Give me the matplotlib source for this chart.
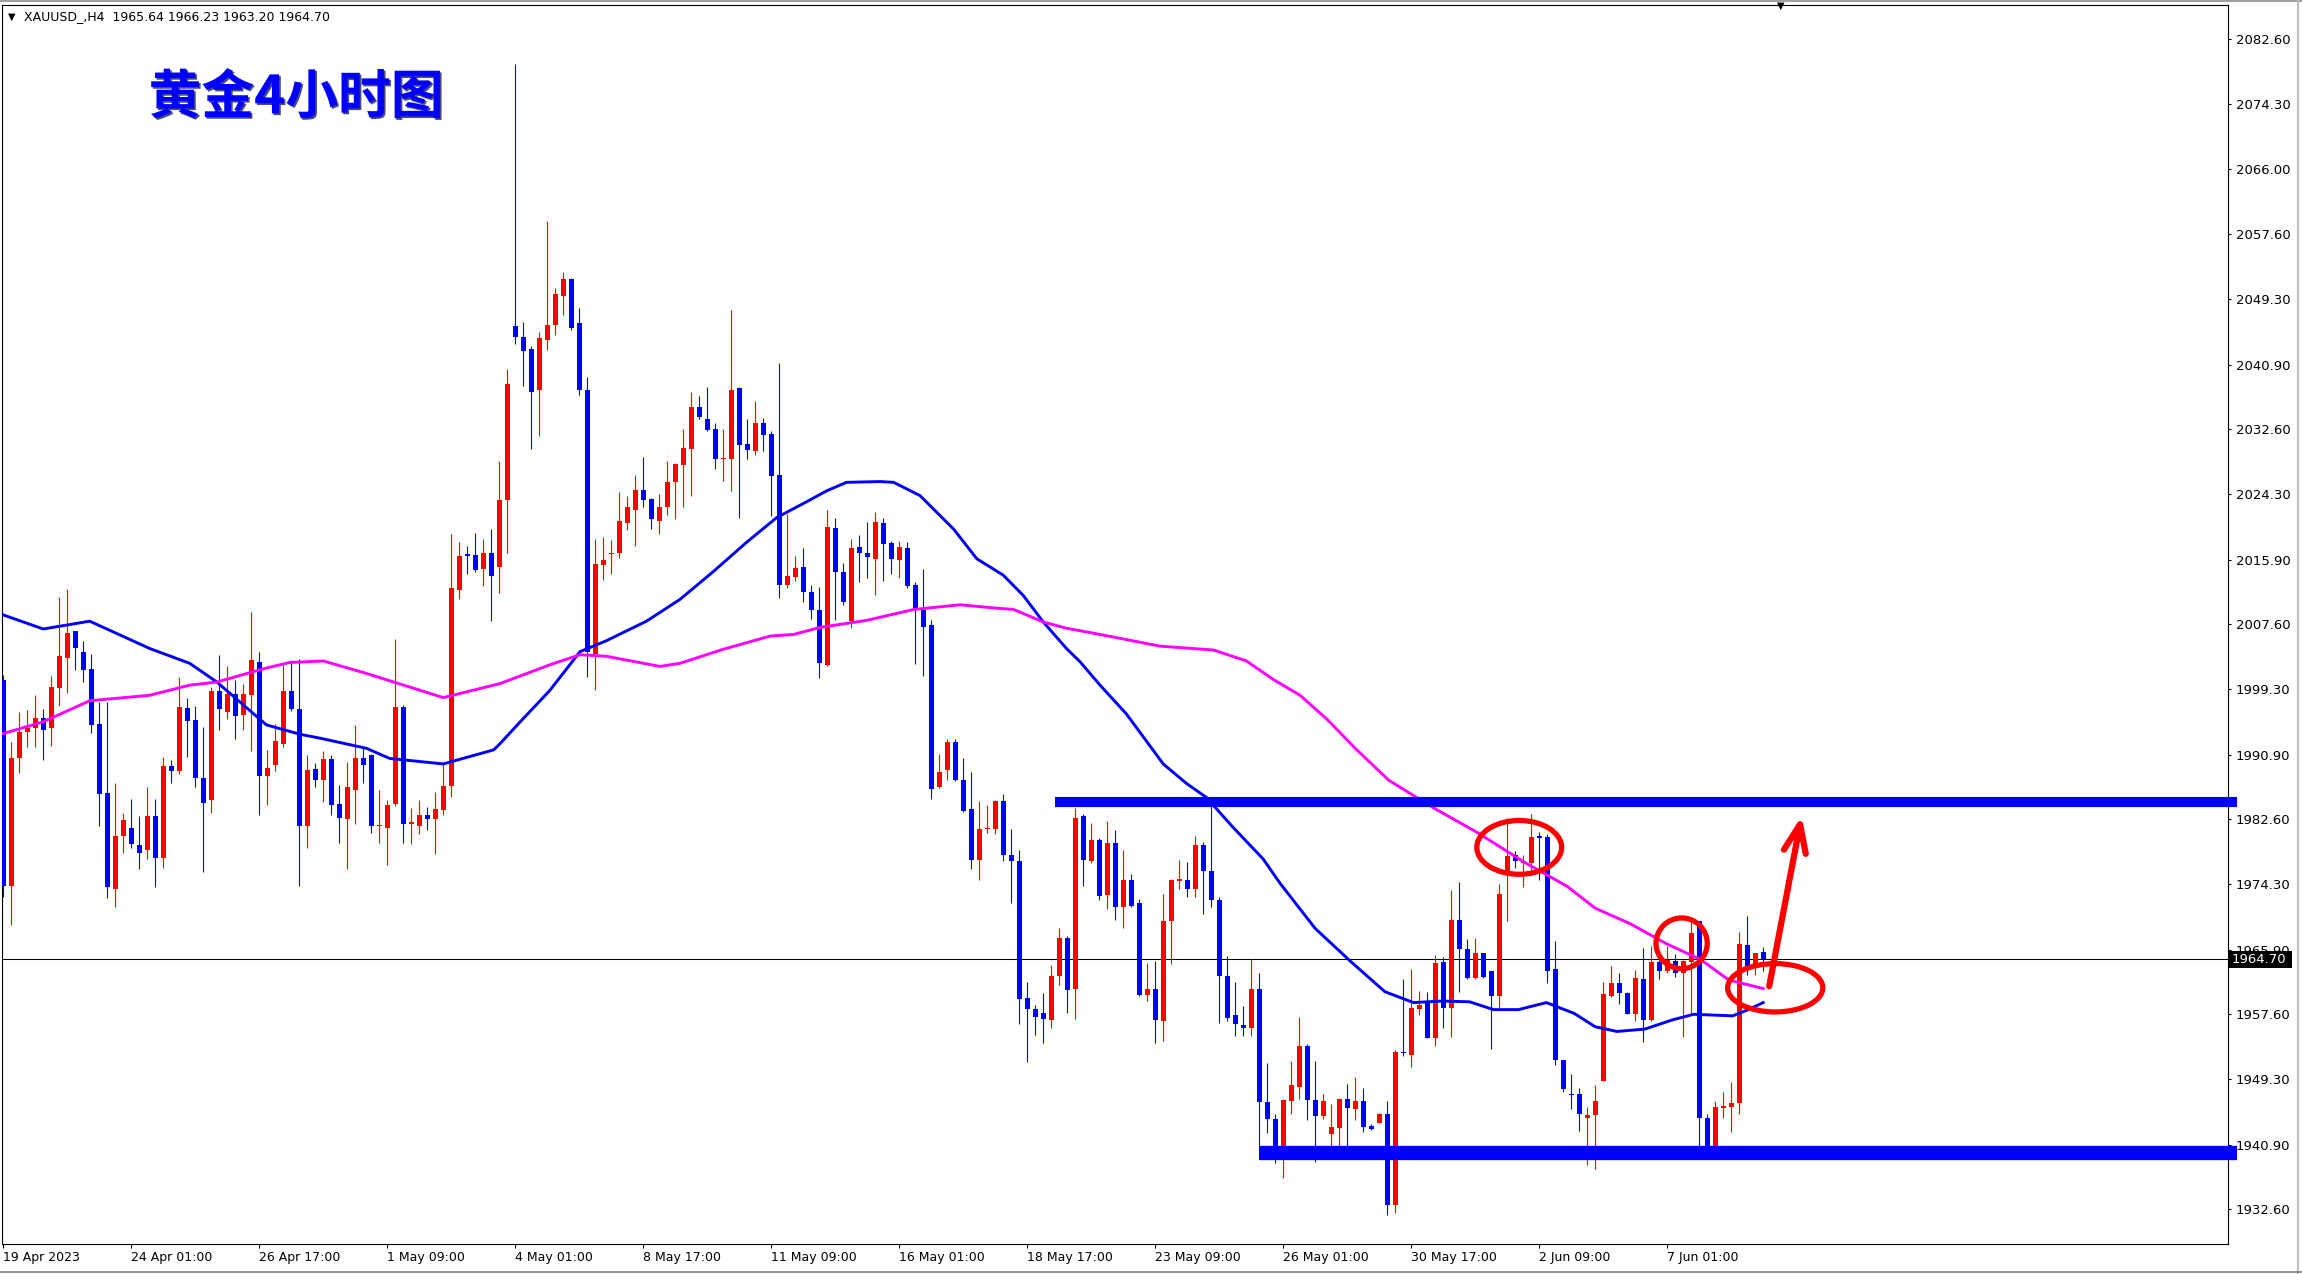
import matplotlib
matplotlib.use("Agg")
import matplotlib.pyplot as plt
import matplotlib.patheffects as pe
from matplotlib.patches import Ellipse, Rectangle
from matplotlib.lines import Line2D
import numpy as np

W, H = 2302, 1274

# XAUUSD H4 candles (bar 0 = 19 Apr 2023)
opens = [
    2000.5, 1974.0, 1990.4, 1993.8, 1994.3, 1995.6, 1994.3, 1999.4, 2003.3, 2006.7,
    2004.1, 2001.9, 1994.8, 1986.0, 1973.6, 1980.4, 1981.5, 1979.3, 1978.7, 1983.0,
    1977.7, 1989.4, 1988.8, 1996.9, 1995.3, 1987.9, 1985.1, 1999.0, 1996.3, 1998.7,
    1996.0, 1998.6, 2002.8, 1988.1, 1989.6, 1992.3, 1999.0, 1996.8, 1981.8, 1989.1,
    1987.6, 1990.3, 1984.6, 1982.6, 1986.3, 1990.5, 1990.8, 1981.7, 1981.5, 1984.5,
    1997.0, 1982.0, 1981.7, 1983.1, 1982.6, 1983.8, 1986.9, 2012.0, 2016.6, 2016.5,
    2014.7, 2016.8, 2015.0, 2023.5, 2045.8, 2044.4, 2042.9, 2037.6, 2044.0, 2046.0,
    2049.7, 2051.9, 2046.2, 2037.6, 2003.8, 2015.2, 2016.6, 2016.8, 2020.6, 2022.3,
    2024.8, 2023.7, 2020.8, 2022.6, 2025.9, 2028.0, 2030.1, 2035.5, 2033.9, 2032.6,
    2028.8, 2028.8, 2037.9, 2030.7, 2029.8, 2033.4, 2032.0, 2026.8, 2012.6, 2013.7,
    2014.9, 2011.7, 2009.4, 2002.4, 2019.9, 2014.3, 2008.0, 2017.5, 2016.8, 2016.0,
    2020.6, 2018.0, 2015.8, 2017.4, 2012.7, 2009.4, 2007.5, 1986.8, 1988.9, 1992.5,
    1987.7, 1983.9, 1977.4, 1981.3, 1981.3, 1985.0, 1978.0, 1977.3, 1959.7, 1958.3,
    1957.8, 1956.9, 1962.5, 1967.4, 1960.8, 1983.0, 1977.2, 1980.0, 1972.9, 1979.5,
    1971.3, 1974.8, 1971.9, 1960.1, 1960.9, 1956.8, 1969.6, 1974.7, 1974.8, 1973.6,
    1979.3, 1976.0, 1972.3, 1962.5, 1957.5, 1956.2, 1955.8, 1960.8, 1946.4, 1944.2,
    1940.2, 1946.5, 1948.3, 1953.5, 1946.6, 1944.6, 1942.2, 1943.0, 1946.7, 1945.5,
    1946.5, 1943.3, 1943.7, 1944.8, 1933.1, 1952.8, 1952.4, 1958.3, 1959.1, 1954.6,
    1964.3, 1958.4, 1969.7, 1966.0, 1962.3, 1965.4, 1963.1, 1960.0, 1975.5, 1978.0,
    1977.0, 1977.0, 1980.4, 1980.3, 1963.4, 1951.7, 1947.4, 1947.4, 1944.3, 1944.7,
    1949.1, 1959.9, 1961.6, 1960.3, 1957.7, 1962.1, 1956.9, 1964.3, 1963.1, 1964.4,
    1962.9, 1964.3, 1969.5, 1944.3, 1940.5, 1945.6, 1945.7, 1946.2, 1966.5, 1963.5,
    1965.64,
]
highs = [
    2001.1, 1992.5, 1996.4, 1996.6, 1998.5, 1996.7, 2001.0, 2011.1, 2012.1, 2006.8,
    2005.4, 2003.8, 1997.7, 1997.7, 1987.3, 1983.4, 1985.2, 1983.0, 1986.8, 1985.2,
    1990.6, 1990.2, 2000.8, 1998.2, 1997.1, 1994.4, 1999.5, 2003.7, 2002.3, 2000.5,
    2000.0, 2009.2, 2004.0, 1991.5, 1994.8, 2002.4, 2003.0, 2003.1, 1990.8, 1989.8,
    1991.4, 1990.8, 1987.0, 1989.9, 1994.7, 1991.8, 1991.0, 1986.3, 1985.1, 2005.7,
    1997.2, 1984.0, 1985.1, 1984.2, 1986.1, 1989.8, 2019.2, 2018.1, 2017.6, 2019.3,
    2018.6, 2019.8, 2028.5, 2040.3, 2079.4, 2046.3, 2043.3, 2045.1, 2059.3, 2050.7,
    2052.8, 2052.0, 2048.1, 2039.3, 2018.6, 2018.8, 2018.4, 2024.6, 2024.1, 2026.8,
    2029.1, 2023.8, 2024.3, 2028.6, 2028.3, 2032.6, 2037.4, 2036.9, 2038.0, 2033.4,
    2032.6, 2047.9, 2038.0, 2033.9, 2036.2, 2034.1, 2032.4, 2041.1, 2021.8, 2016.4,
    2017.4, 2012.6, 2012.4, 2022.3, 2021.2, 2015.5, 2018.6, 2019.1, 2020.7, 2022.0,
    2021.2, 2018.3, 2018.3, 2018.1, 2013.0, 2014.7, 2008.2, 1991.0, 1992.9, 1992.9,
    1990.5, 1988.7, 1985.0, 1984.4, 1985.1, 1985.9, 1981.4, 1978.7, 1961.8, 1958.8,
    1960.3, 1963.9, 1968.6, 1967.7, 1984.0, 1983.3, 1982.1, 1980.2, 1982.4, 1981.2,
    1978.7, 1975.6, 1972.4, 1964.2, 1964.4, 1973.0, 1974.9, 1977.4, 1977.1, 1980.4,
    1979.7, 1984.4, 1972.6, 1965.1, 1961.7, 1958.7, 1964.7, 1962.9, 1951.4, 1944.8,
    1946.7, 1951.6, 1957.2, 1953.8, 1951.6, 1947.4, 1946.1, 1946.9, 1948.7, 1949.6,
    1948.1, 1943.5, 1945.0, 1946.5, 1953.0, 1962.1, 1963.4, 1960.6, 1960.4, 1965.2,
    1964.9, 1973.5, 1974.6, 1967.3, 1967.4, 1965.5, 1963.2, 1974.3, 1982.8, 1978.5,
    1978.0, 1983.3, 1981.0, 1980.7, 1967.0, 1951.8, 1949.9, 1948.1, 1945.7, 1948.5,
    1961.8, 1963.8, 1962.9, 1960.4, 1963.3, 1966.1, 1966.3, 1965.4, 1966.4, 1965.3,
    1964.6, 1969.7, 1969.6, 1944.8, 1946.5, 1947.6, 1948.9, 1968.2, 1970.2, 1965.5,
    1966.23,
]
lows = [
    1972.7, 1969.0, 1988.6, 1991.9, 1991.9, 1990.2, 1992.0, 1997.1, 1998.8, 2001.8,
    2000.2, 1993.7, 1981.7, 1972.5, 1971.4, 1978.3, 1978.9, 1976.2, 1977.5, 1973.9,
    1976.3, 1987.3, 1988.4, 1990.6, 1986.8, 1975.9, 1983.4, 1994.1, 1995.5, 1992.9,
    1994.1, 1991.4, 1983.2, 1984.4, 1988.8, 1991.9, 1996.5, 1974.0, 1978.9, 1986.7,
    1984.8, 1983.2, 1979.6, 1976.2, 1982.0, 1987.2, 1980.8, 1979.6, 1976.8, 1984.3,
    1979.6, 1979.4, 1980.7, 1981.2, 1978.2, 1983.2, 1985.5, 2010.9, 2014.0, 2014.3,
    2012.5, 2008.0, 2011.6, 2016.8, 2043.5, 2038.2, 2030.1, 2031.8, 2042.8, 2044.7,
    2047.3, 2045.3, 2037.0, 2000.9, 1999.2, 2013.3, 2014.0, 2016.1, 2019.7, 2017.6,
    2022.6, 2019.8, 2019.2, 2021.6, 2021.1, 2022.6, 2024.1, 2033.9, 2032.4, 2027.5,
    2026.0, 2024.7, 2021.2, 2028.8, 2029.3, 2029.8, 2021.5, 2011.0, 2012.2, 2013.2,
    2010.5, 2008.3, 2000.7, 2002.2, 2008.1, 2010.1, 2007.1, 2013.0, 2013.6, 2011.3,
    2013.1, 2014.1, 2013.5, 2012.2, 2002.5, 2001.0, 1985.2, 1986.6, 1987.7, 1987.5,
    1983.6, 1976.2, 1974.8, 1980.9, 1980.7, 1977.3, 1971.9, 1956.4, 1951.5, 1955.0,
    1953.9, 1955.8, 1961.4, 1957.8, 1957.0, 1974.1, 1977.0, 1972.2, 1971.1, 1969.7,
    1968.7, 1971.4, 1960.0, 1959.3, 1953.9, 1954.2, 1964.0, 1973.7, 1972.7, 1972.6,
    1970.5, 1971.3, 1956.5, 1956.8, 1954.8, 1954.8, 1954.8, 1940.2, 1942.4, 1938.5,
    1936.6, 1944.8, 1946.7, 1944.0, 1938.6, 1944.2, 1940.7, 1940.7, 1940.7, 1944.0,
    1942.5, 1942.8, 1943.6, 1931.9, 1932.1, 1952.2, 1950.8, 1957.5, 1954.5, 1953.5,
    1955.8, 1954.7, 1960.5, 1962.1, 1962.1, 1962.3, 1953.1, 1958.4, 1969.6, 1976.3,
    1973.9, 1975.5, 1974.8, 1961.6, 1951.1, 1947.7, 1945.5, 1942.7, 1938.3, 1937.8,
    1949.0, 1959.8, 1958.9, 1957.6, 1956.7, 1954.1, 1956.8, 1962.1, 1962.9, 1962.4,
    1954.7, 1957.5, 1940.6, 1939.0, 1939.5, 1944.3, 1942.5, 1944.8, 1962.7, 1962.6,
    1963.20,
]
closes = [
    1974.0, 1990.4, 1993.8, 1994.3, 1995.6, 1994.0, 1999.5, 2003.5, 2006.5, 2004.5,
    2001.7, 1994.7, 1985.9, 1973.9, 1980.5, 1982.5, 1979.4, 1978.3, 1983.0, 1977.7,
    1989.4, 1988.8, 1997.0, 1995.2, 1987.9, 1984.7, 1999.0, 1996.8, 1998.7, 1995.9,
    1998.7, 2003.0, 1988.1, 1989.2, 1992.6, 1999.0, 1996.7, 1981.7, 1988.9, 1987.6,
    1990.3, 1984.4, 1982.8, 1986.7, 1990.5, 1989.5, 1981.7, 1981.9, 1984.4, 1997.0,
    1982.0, 1982.3, 1983.1, 1982.6, 1983.9, 1986.9, 2012.2, 2016.3, 2016.4, 2014.6,
    2016.8, 2013.8, 2023.5, 2038.4, 2044.4, 2042.7, 2037.4, 2044.3, 2046.0, 2050.0,
    2051.9, 2045.6, 2037.6, 2004.1, 2015.3, 2015.9, 2016.8, 2020.9, 2022.6, 2024.8,
    2023.6, 2021.1, 2022.6, 2025.8, 2028.1, 2030.2, 2035.5, 2034.2, 2032.5, 2028.8,
    2028.9, 2037.7, 2030.6, 2030.0, 2033.4, 2031.9, 2026.6, 2012.6, 2013.8, 2014.8,
    2011.8, 2009.4, 2002.6, 2020.1, 2014.3, 2010.5, 2017.4, 2016.7, 2016.2, 2020.7,
    2017.9, 2016.0, 2017.5, 2012.5, 2009.6, 2007.3, 1986.5, 1988.7, 1992.5, 1987.6,
    1983.7, 1977.4, 1981.4, 1981.5, 1985.0, 1978.0, 1977.2, 1959.6, 1958.3, 1957.3,
    1957.0, 1962.5, 1967.4, 1960.7, 1982.8, 1977.4, 1980.0, 1972.8, 1979.5, 1971.4,
    1974.8, 1971.5, 1960.1, 1960.9, 1956.9, 1969.6, 1974.8, 1974.9, 1973.6, 1979.3,
    1976.0, 1972.3, 1962.5, 1957.1, 1956.4, 1955.8, 1960.9, 1946.4, 1944.2, 1940.2,
    1946.6, 1948.5, 1953.5, 1946.6, 1944.6, 1946.5, 1943.1, 1946.8, 1945.6, 1946.5,
    1943.2, 1942.9, 1944.8, 1933.1, 1952.8, 1952.6, 1958.4, 1958.8, 1954.6, 1964.2,
    1958.4, 1969.7, 1966.0, 1962.3, 1965.4, 1962.4, 1960.0, 1973.0, 1977.9, 1977.2,
    1977.2, 1980.3, 1980.2, 1963.1, 1951.7, 1948.0, 1947.2, 1944.8, 1944.7, 1946.5,
    1960.2, 1961.6, 1960.3, 1957.7, 1962.2, 1956.9, 1964.3, 1963.1, 1964.6, 1962.9,
    1964.4, 1968.0, 1944.3, 1940.0, 1945.7, 1945.8, 1946.2, 1966.6, 1963.5, 1965.4,
    1964.70,
]

# moving averages, sampled along the lines (bar position, price)
ma_fast_x = [0, 5, 10.8, 18.3, 23.3, 26.7, 32.9, 37.1, 39.6, 45.4, 48.3, 55.0, 61.3,
             62.1, 64.8, 68.3, 72.1, 75.4, 80.4, 84.6, 88.8, 92.9, 96.7, 100.4, 102.9,
             105.4, 109.6, 111.3, 114.6, 118.8, 121.7, 125.0, 127.5, 130.0, 132.9,
             134.6, 137.1, 140.4, 145.0, 147.9, 150.4, 153.7, 157.5, 159.6, 162.1,
             164.0, 168.4, 172.7, 176.3, 179.8, 183.3, 186.3, 189.4, 192.9, 196.4,
             199.0, 201.7, 205.2, 208.7, 211.3, 216.2, 217.9, 220.0]
ma_fast_y = [2008.8, 2007.0, 2008.0, 2004.5, 2002.6, 2000.2, 1994.7, 1993.5, 1993.0,
             1991.7, 1990.4, 1989.7, 1991.5, 1992.3, 1995.3, 1999.1, 2004.1, 2005.5,
             2008.0, 2010.8, 2014.4, 2018.1, 2021.3, 2023.3, 2024.7, 2025.8, 2025.9,
             2025.8, 2024.1, 2019.8, 2016.0, 2013.9, 2011.3, 2007.9, 2004.5, 2002.8,
             1999.8, 1996.1, 1989.7, 1987.2, 1985.4, 1981.6, 1977.5, 1974.4, 1971.1,
             1968.6, 1964.4, 1960.5, 1959.1, 1959.3, 1959.2, 1958.2, 1958.2, 1959.1,
             1957.7, 1956.0, 1955.4, 1955.7, 1956.9, 1957.6, 1957.4, 1958.1, 1959.1]
ma_slow_x = [0, 5, 10.8, 18.3, 23.3, 26.7, 32.9, 35.8, 40.0, 45.4, 55.0, 62.1, 68.3,
             72.1, 75.4, 82.1, 84.6, 90.0, 95.9, 98.8, 102.1, 107.9, 113.8, 119.6,
             123.8, 126.3, 130.0, 132.9, 137.1, 144.6, 151.3, 155.4, 158.8, 162.1,
             165.5, 169.0, 173.2, 178.9, 184.1, 190.3, 195.5, 199.0, 203.4, 207.8,
             212.2, 215.7, 220.0]
ma_slow_y = [1993.6, 1995.1, 1997.8, 1998.5, 1999.8, 2000.2, 2002.0, 2002.7, 2002.9,
             2001.3, 1998.2, 2000.0, 2002.4, 2003.7, 2003.5, 2002.2, 2002.6, 2004.4,
             2006.1, 2006.3, 2007.2, 2008.1, 2009.5, 2010.1, 2009.7, 2009.5, 2007.9,
             2007.1, 2006.3, 2004.8, 2004.3, 2002.9, 2000.5, 1998.5, 1995.4, 1991.7,
             1987.6, 1984.0, 1981.0, 1977.0, 1974.0, 1971.2, 1969.2, 1966.7, 1964.6,
             1962.0, 1960.9]

xtick_labels = ["19 Apr 2023", "24 Apr 01:00", "26 Apr 17:00", "1 May 09:00",
                "4 May 01:00", "8 May 17:00", "11 May 09:00", "16 May 01:00",
                "18 May 17:00", "23 May 09:00", "26 May 01:00", "30 May 17:00",
                "2 Jun 09:00", "7 Jun 01:00"]
ytick_values = [2082.60, 2074.30, 2066.00, 2057.60, 2049.30, 2040.90, 2032.60,
                2024.30, 2015.90, 2007.60, 1999.30, 1990.90, 1982.60, 1974.30,
                1965.90, 1957.60, 1949.30, 1940.90, 1932.60]
last_price = 1964.70

# hand drawn marks: support/resistance levels, circles and the arrow
levels = [(131.5, 1984.8, 7.3), (157.0, 1939.8, 10.3)]
circles = [(189.5, 1979.0, 10.6, 6.9), (209.8, 1966.7, 6.4, 6.5), (221.5, 1961.0, 11.9, 6.2)]
arrow_from = (220.75, 1961.2)
arrow_to = (224.8, 1983.0)

plt.rcParams['font.family'] = ['DejaVu Sans']

fig = plt.figure(figsize=(W / 100, H / 100), dpi=100, facecolor='white')
ax = fig.add_axes([2 / W, (H - 1244) / H, (2228 - 2) / W, (1244 - 5) / H])

o = np.array(opens)
hi = np.array(highs)
lo = np.array(lows)
c = np.array(closes)
x = np.arange(len(o))
cols = np.where(c >= o, '#ff0000', '#0000ff')

ax.vlines(x, lo, hi, colors=cols, lw=0.8, zorder=2)
body = np.maximum(np.abs(c - o), 0.15)
ax.bar(x, body, bottom=np.minimum(o, c), width=0.64, color=cols, linewidth=0, zorder=3)

ax.plot(ma_fast_x, ma_fast_y, color='#0000ff', lw=2.1, zorder=4)
ax.plot(ma_slow_x, ma_slow_y, color='#ff00ff', lw=2.1, zorder=4)

ax.axhline(last_price, color='black', lw=0.75, zorder=1)

xmax = 278.1
for start, lvl, lw in levels:
    ax.plot([start, xmax + 1.1], [lvl, lvl], color='#0000ff', lw=lw,
            solid_capstyle='butt', clip_on=False, zorder=6)

for cx, cy, w, h in circles:
    ax.add_patch(Ellipse((cx, cy), w, h, fill=False, ec='#ff0000', lw=3.8, zorder=7))
ax.annotate('', xy=arrow_to, xytext=arrow_from,
            arrowprops=dict(arrowstyle='->,head_length=1.0,head_width=0.4',
                            mutation_scale=20, color='#ff0000', lw=4.5,
                            shrinkA=0, shrinkB=0), zorder=7)

ax.set_xlim(-0.16, xmax)
ax.set_ylim(1928.15, 2087.0)

ax.yaxis.tick_right()
ax.set_yticks(ytick_values)
ax.set_yticklabels([f"{v:.2f}" for v in ytick_values])
ax.set_xticks(np.arange(len(xtick_labels)) * 16)
ax.set_xticklabels(xtick_labels, ha='left')
ax.tick_params(axis='y', direction='out', length=2.5, width=0.8, pad=3, labelsize=9.5)
ax.tick_params(axis='x', direction='out', length=3, width=0.8, pad=2, labelsize=9)
for s in ax.spines.values():
    s.set_color('black')
    s.set_linewidth(0.8)

# price box on the right scale
fig.add_artist(Rectangle((2229 / W, 1 - 968 / H), 63 / W, 17 / H,
                         transform=fig.transFigure, fc='black', ec='none', zorder=5))
fig.text(2232 / W, 1 - 959.5 / H, f"{last_price:.2f}", color='white', fontsize=9.5,
         va='center', ha='left', zorder=6)

# header
fig.text(8 / W, 1 - 17 / H, '▼', fontsize=7, va='center', ha='left')
fig.text(24 / W, 1 - 17 / H, 'XAUUSD_,H4  1965.64 1966.23 1963.20 1964.70',
         fontsize=9, va='center', ha='left')
fig.text(1781 / W, 1 - 1 / H, '▼', fontsize=7, va='top', ha='center')

# title
fig.text(296 / W, 1 - 98 / H, '黄金4小时图', fontsize=38, fontweight='bold',
         color='#0000ff', ha='center', va='center',
         family=['Noto Sans CJK SC', 'DejaVu Sans'],
         path_effects=[pe.SimplePatchShadow(offset=(1.2, -1.2), shadow_rgbFace='#000040', alpha=0.7),
                       pe.Normal()])

# window frame
fig.add_artist(Line2D([0, 1], [1 - 1 / H] * 2, color='#a0a0a0', lw=1.5, transform=fig.transFigure))
fig.add_artist(Line2D([2298 / W] * 2, [0, 1], color='#c0c0c0', lw=1.5, transform=fig.transFigure))
fig.add_artist(Line2D([0, 1], [1 - 1272 / H] * 2, color='#808080', lw=1.2, transform=fig.transFigure))

fig.savefig('out.png', dpi=100, facecolor='white')
